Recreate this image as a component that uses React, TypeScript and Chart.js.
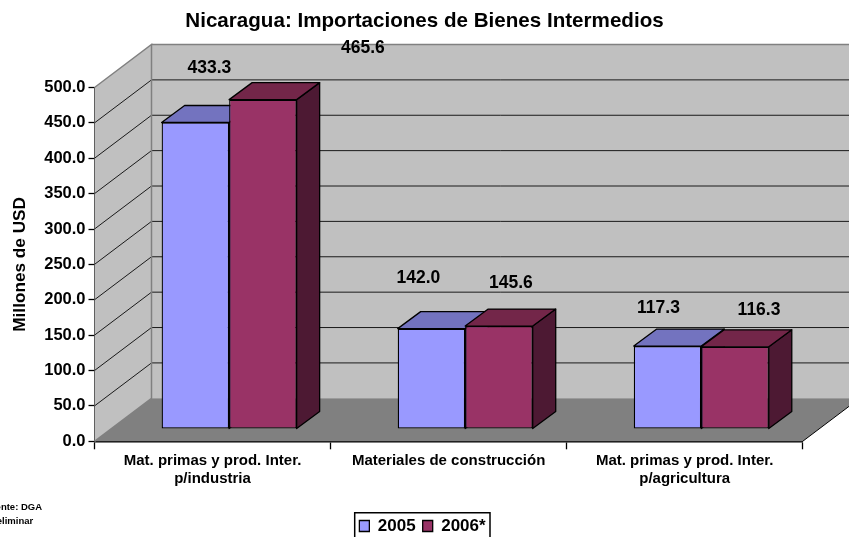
import React, { useEffect, useRef } from "react";
import { Chart, registerables } from "chart.js";

Chart.register(...registerables);

const categories = [
  ["Mat. primas y prod. Inter.", "p/industria"],
  "Materiales de construcción",
  ["Mat. primas y prod. Inter.", "p/agricultura"],
];
const values2005 = [433.3, 142.0, 117.3];
const values2006 = [465.6, 145.6, 116.3];
const chartTitle = "Nicaragua: Importaciones de Bienes Intermedios";
const yTitle = "Millones de USD";
const notes = ["Fuente: DGA", "*Preliminar"];

const FONT = "'Liberation Sans', Arial, sans-serif";
const W = 849, H = 537;
const AREA_RIGHT = 802.7, AREA_LEFT = 94.5, AREA_TOP = 87.5, AREA_BOTTOM = 441.3;
const DEPTH_X = 57, DEPTH_Y = -43;
const BAR_SHIFT_X = 16.6, BAR_SHIFT_Y = -12.2;
const BAR_DEPTH_X = 23, BAR_DEPTH_Y = -17;
const shades = [
  { top: "#7373BF", side: "#4D4D80" },
  { top: "#732649", side: "#4D1933" },
];
// manual placement of the data labels, relative to the bar top centre
const labelOffsets = [
  [[14, -54], [-13, -50], [-9, -38]],
  [[100, -51], [12, -43], [24, -37]],
];

const threeD = {
  id: "threeD",
  beforeDatasetsDraw(chart: any) {
    const { ctx } = chart;
    const y = chart.scales.y;
    const x0 = chart.chartArea.left, x1 = chart.chartArea.right;
    const y0 = y.getPixelForValue(0), yTop = y.getPixelForValue(500);
    ctx.save();
    // walls
    ctx.fillStyle = "#C0C0C0";
    ctx.beginPath();
    ctx.moveTo(x0, y0);
    ctx.lineTo(x0 + DEPTH_X, y0 + DEPTH_Y);
    ctx.lineTo(x0 + DEPTH_X, yTop + DEPTH_Y);
    ctx.lineTo(x0, yTop);
    ctx.closePath();
    ctx.fill();
    ctx.fillRect(x0 + DEPTH_X, yTop + DEPTH_Y, W - x0 - DEPTH_X, y0 - yTop);
    // grid
    ctx.strokeStyle = "#1a1a1a";
    ctx.lineWidth = 1;
    y.ticks.forEach((t: any) => {
      if (t.value === 0 || t.value === 500) return;
      const py = y.getPixelForValue(t.value);
      ctx.beginPath();
      ctx.moveTo(x0, py);
      ctx.lineTo(x0 + DEPTH_X, py + DEPTH_Y);
      ctx.lineTo(W, py + DEPTH_Y);
      ctx.stroke();
    });
    // floor
    ctx.fillStyle = "#808080";
    ctx.beginPath();
    ctx.moveTo(x0, y0);
    ctx.lineTo(x1, y0);
    ctx.lineTo(x1 + DEPTH_X, y0 + DEPTH_Y);
    ctx.lineTo(x0 + DEPTH_X, y0 + DEPTH_Y);
    ctx.closePath();
    ctx.fill();
    // wall outline
    ctx.strokeStyle = "#808080";
    ctx.lineWidth = 1.5;
    ctx.beginPath();
    ctx.moveTo(x0, y0);
    ctx.lineTo(x0 + DEPTH_X, y0 + DEPTH_Y);
    ctx.lineTo(x0 + DEPTH_X, yTop + DEPTH_Y);
    ctx.lineTo(x0, yTop);
    ctx.moveTo(x0 + DEPTH_X, yTop + DEPTH_Y);
    ctx.lineTo(W, yTop + DEPTH_Y);
    ctx.stroke();
    // floor's right edge
    ctx.strokeStyle = "#000";
    ctx.lineWidth = 1;
    ctx.beginPath();
    ctx.moveTo(x1, y0);
    ctx.lineTo(x1 + DEPTH_X, y0 + DEPTH_Y);
    ctx.stroke();

    // tops and sides of the bars, left series first
    ctx.translate(BAR_SHIFT_X, BAR_SHIFT_Y);
    ctx.strokeStyle = "#000";
    ctx.lineWidth = 1.3;
    ctx.lineJoin = "round";
    const metas = [chart.getDatasetMeta(0), chart.getDatasetMeta(1)];
    metas[0].data.forEach((_: any, j: number) => {
      metas.forEach((meta: any, i: number) => {
        const el = meta.data[j];
        const shade = shades[i];
        const l = el.x - el.width / 2, r = el.x + el.width / 2, t = el.y, b = el.base;
        ctx.fillStyle = shade.side;
        ctx.beginPath();
        ctx.moveTo(r, t);
        ctx.lineTo(r + BAR_DEPTH_X, t + BAR_DEPTH_Y);
        ctx.lineTo(r + BAR_DEPTH_X, b + BAR_DEPTH_Y);
        ctx.lineTo(r, b);
        ctx.closePath();
        ctx.fill();
        ctx.stroke();
        ctx.fillStyle = shade.top;
        ctx.beginPath();
        ctx.moveTo(l, t);
        ctx.lineTo(l + BAR_DEPTH_X, t + BAR_DEPTH_Y);
        ctx.lineTo(r + BAR_DEPTH_X, t + BAR_DEPTH_Y);
        ctx.lineTo(r, t);
        ctx.closePath();
        ctx.fill();
        ctx.stroke();
      });
    });
    ctx.restore();
  },
  beforeDatasetDraw(chart: any) {
    chart.ctx.save();
    chart.ctx.translate(BAR_SHIFT_X, BAR_SHIFT_Y);
  },
  afterDatasetDraw(chart: any) {
    chart.ctx.restore();
  },
  afterLayout(chart: any) {
    const lg = chart.legend;
    if (lg) {
      lg.left -= 2;
      lg.right -= 2;
      lg.top = 510.5;
    }
  },
  afterDraw(chart: any) {
    const { ctx } = chart;
    ctx.save();
    ctx.fillStyle = "#000";
    ctx.textAlign = "center";
    ctx.textBaseline = "middle";
    ctx.font = `bold 17.5px ${FONT}`;
    chart.data.datasets.forEach((ds: any, i: number) => {
      const meta = chart.getDatasetMeta(i);
      meta.data.forEach((el: any, j: number) => {
        const [ox, oy] = labelOffsets[i][j];
        ctx.fillText(ds.data[j].toFixed(1), el.x + BAR_SHIFT_X + ox, el.y + BAR_SHIFT_Y + oy);
      });
    });
    // source note, cut by the left edge
    ctx.textAlign = "left";
    ctx.font = `bold 9.5px ${FONT}`;
    ctx.fillText(notes[0], -16, 507);
    ctx.fillText(notes[1], -17, 521);
    // legend frame
    ctx.strokeStyle = "#000";
    ctx.lineWidth = 1.5;
    ctx.beginPath();
    ctx.moveTo(354.7, H + 2);
    ctx.lineTo(354.7, 512.7);
    ctx.lineTo(490, 512.7);
    ctx.lineTo(490, H + 2);
    ctx.stroke();
    ctx.restore();
  },
};

export default function App() {
  const ref = useRef<HTMLCanvasElement>(null);
  useEffect(() => {
    const chart = new Chart(ref.current as any, {
      type: "bar",
      data: {
        labels: categories as any,
        datasets: [
          { label: "2005", data: values2005, backgroundColor: "#9999FF", borderColor: "#000", borderWidth: 1.3, borderSkipped: false },
          { label: "2006*", data: values2006, backgroundColor: "#993366", borderColor: "#000", borderWidth: 1.3, borderSkipped: false },
        ],
      },
      options: {
        responsive: false,
        animation: false,
        devicePixelRatio: 1,
        categoryPercentage: 0.572,
        barPercentage: 1,
        layout: { padding: 0 },
        plugins: {
          tooltip: { enabled: false },
          title: {
            display: true,
            text: chartTitle,
            color: "#000",
            font: { family: FONT, size: 20.6, weight: "bold", lineHeight: 1.2 },
            padding: { top: 9, bottom: AREA_TOP - 9 - 20.6 * 1.2 },
          },
          legend: {
            position: "bottom",
            labels: {
              color: "#000",
              boxWidth: 10,
              boxHeight: 11,
              padding: 7,
              font: { family: FONT, size: 17, weight: "bold" },
            },
          },
        },
        scales: {
          x: {
            grid: { drawOnChartArea: false, drawTicks: true, tickLength: 8, tickColor: "#000", tickWidth: 1.3 },
            border: { color: "#000", width: 1.5 },
            ticks: {
              color: "#000",
              padding: 3,
              maxRotation: 0,
              autoSkip: false,
              font: { family: FONT, size: 15, weight: "bold", lineHeight: 1.2 },
            },
            afterFit(s: any) {
              s.height = H - AREA_BOTTOM - (s.chart.legend?.height || 31);
            },
          },
          y: {
            min: 0,
            max: 500,
            grid: { drawOnChartArea: false, drawTicks: true, tickLength: 6, tickColor: "#000", tickWidth: 1.3 },
            border: { color: "#000", width: 1.5 },
            ticks: {
              color: "#000",
              stepSize: 50,
              padding: 3,
              font: { family: FONT, size: 16.5, weight: "bold" },
              callback: (v: any) => Number(v).toFixed(1),
            },
            title: {
              display: true,
              text: yTitle,
              color: "#000",
              font: { family: FONT, size: 17.2, weight: "bold" },
              padding: { top: 10, bottom: 0 },
            },
            afterFit(s: any) {
              s.width = AREA_LEFT;
            },
          },
          y2: {
            display: true,
            position: "right",
            grid: { display: false },
            border: { display: false },
            ticks: { display: false },
            afterFit(s: any) {
              s.width = W - AREA_RIGHT;
            },
          },
        },
      } as any,
      plugins: [threeD as any],
    });
    return () => chart.destroy();
  }, []);
  return (
    <canvas
      ref={ref}
      width={W}
      height={H}
      style={{ position: "fixed", left: 0, top: 0, display: "block" }}
    />
  );
}
